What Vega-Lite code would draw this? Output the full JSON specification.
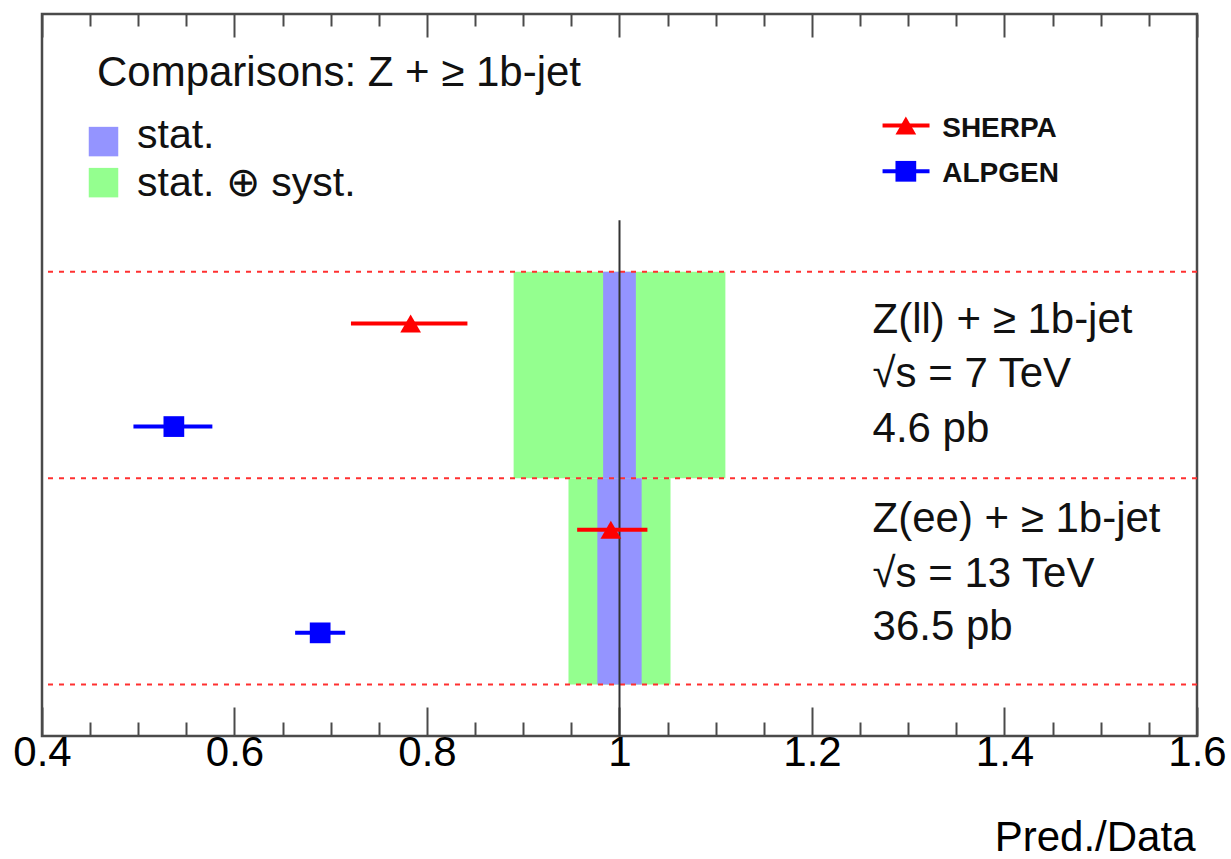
{
  "$schema": "https://vega.github.io/schema/vega-lite/v6.json",
  "width": 1155,
  "height": 722,
  "autosize": {"type": "none"},
  "padding": {"left": 42, "top": 14, "right": 34, "bottom": 123},
  "config": {
    "font": "Liberation Sans",
    "view": {"stroke": "#4a4a4a", "strokeWidth": 2.5},
    "axis": {"grid": false}
  },
  "datasets": {
    "bands": [
      {"sample": "7 TeV", "stat_lo": 0.983, "stat_hi": 1.017, "tot_lo": 0.890, "tot_hi": 1.110, "y_lo": 2.5, "y_hi": 4.5},
      {"sample": "13 TeV", "stat_lo": 0.977, "stat_hi": 1.023, "tot_lo": 0.947, "tot_hi": 1.053, "y_lo": 0.5, "y_hi": 2.5}
    ],
    "predictions": [
      {"sample": "7 TeV", "generator": "SHERPA", "ratio": 0.783, "lo": 0.721, "hi": 0.842, "row": 4},
      {"sample": "7 TeV", "generator": "ALPGEN", "ratio": 0.537, "lo": 0.495, "hi": 0.577, "row": 3},
      {"sample": "13 TeV", "generator": "SHERPA", "ratio": 0.991, "lo": 0.956, "hi": 1.029, "row": 2},
      {"sample": "13 TeV", "generator": "ALPGEN", "ratio": 0.689, "lo": 0.663, "hi": 0.715, "row": 1}
    ],
    "dividers": [{"y": 0.5}, {"y": 2.5}, {"y": 4.5}],
    "unity": [{"x": 1, "y0": 0, "y1": 5}],
    "uncertaintyKey": [
      {"label": "stat.", "x": 0.4639, "y": 5.763, "tx": 0.4987, "ty": 5.70},
      {"label": "stat. ⊕ syst.", "x": 0.4639, "y": 5.365, "tx": 0.4987, "ty": 5.24}
    ],
    "generatorKey": [
      {"generator": "SHERPA", "x": 1.2975, "x_lo": 1.2733, "x_hi": 1.3221, "y": 5.918, "tx": 1.3353, "ty": 5.804},
      {"generator": "ALPGEN", "x": 1.2975, "x_lo": 1.2733, "x_hi": 1.3221, "y": 5.475, "tx": 1.3353, "ty": 5.368}
    ],
    "titleText": [{"text": "Comparisons: Z + ≥ 1b-jet", "x": 0.4571, "y": 6.305}],
    "sampleText": [
      {"text": "Z(ll) + ≥ 1b-jet", "x": 1.2629, "y": 3.912},
      {"text": "√s = 7 TeV", "x": 1.2629, "y": 3.38},
      {"text": "4.6 pb", "x": 1.2629, "y": 2.85},
      {"text": "Z(ee) + ≥ 1b-jet", "x": 1.2629, "y": 1.977},
      {"text": "√s = 13 TeV", "x": 1.2629, "y": 1.444},
      {"text": "36.5 pb", "x": 1.2629, "y": 0.927}
    ]
  },
  "resolve": {"axis": {"x": "independent"}},
  "layer": [
    {
      "data": {"name": "bands"},
      "mark": {"type": "rect", "color": "#94ff8f"},
      "encoding": {
        "x": {
          "field": "tot_lo", "type": "quantitative",
          "scale": {"domain": [0.4, 1.6], "nice": false, "zero": false},
          "axis": {
            "orient": "bottom",
            "values": [0.4, 0.6, 0.8, 1, 1.2, 1.4, 1.6],
            "format": "~g",
            "ticks": false,
            "domain": false,
            "labelFontSize": 42,
            "labelPadding": -4,
            "labelColor": "#000000",
            "labelFlush": false,
            "labelOverlap": false,
            "title": "Pred./Data",
            "titleFontSize": 42,
            "titleFontWeight": "normal",
            "titleColor": "#000000",
            "titleAnchor": "end",
            "titleAlign": "right",
            "titleBaseline": "alphabetic",
            "titleX": 1153,
            "titleY": 114
          }
        },
        "x2": {"field": "tot_hi"},
        "y": {
          "field": "y_lo", "type": "quantitative",
          "scale": {"domain": [0, 7], "nice": false, "zero": false},
          "axis": {
            "values": [0, 1, 2, 3, 4, 5, 6, 7],
            "labels": false,
            "domain": false,
            "tickSize": 2,
            "tickWidth": 1.5,
            "tickColor": "#d6d6d6",
            "offset": 6,
            "title": null
          }
        },
        "y2": {"field": "y_hi"}
      }
    },
    {
      "data": {"name": "bands"},
      "mark": {"type": "rect", "color": "#9494ff"},
      "encoding": {
        "x": {
          "field": "stat_lo", "type": "quantitative",
          "scale": {"domain": [0.4, 1.6], "nice": false, "zero": false},
          "axis": {
            "orient": "bottom",
            "values": [0.4, 0.6, 0.8, 1, 1.2, 1.4, 1.6],
            "labels": false, "domain": false, "title": null,
            "tickSize": -29, "tickWidth": 2, "tickColor": "#4a4a4a"
          }
        },
        "x2": {"field": "stat_hi"},
        "y": {"field": "y_lo", "type": "quantitative", "axis": null},
        "y2": {"field": "y_hi"}
      }
    },
    {
      "data": {"name": "dividers"},
      "mark": {"type": "rule", "color": "#ff3030", "strokeWidth": 2, "strokeDash": [5, 6]},
      "encoding": {
        "y": {"field": "y", "type": "quantitative", "axis": null}
      }
    },
    {
      "data": {"name": "unity"},
      "mark": {"type": "rule", "color": "#333333", "strokeWidth": 2},
      "encoding": {
        "x": {
          "field": "x", "type": "quantitative",
          "scale": {"domain": [0.4, 1.6], "nice": false, "zero": false},
          "axis": {
            "orient": "bottom",
            "values": [0.45, 0.5, 0.55, 0.65, 0.7, 0.75, 0.85, 0.9, 0.95, 1.05, 1.1, 1.15, 1.25, 1.3, 1.35, 1.45, 1.5, 1.55],
            "labels": false, "domain": false, "title": null,
            "tickSize": -14, "tickWidth": 2, "tickColor": "#4a4a4a"
          }
        },
        "y": {"field": "y0", "type": "quantitative", "axis": null},
        "y2": {"field": "y1"}
      }
    },
    {
      "data": {"name": "predictions"},
      "mark": {"type": "rule", "strokeWidth": 4},
      "encoding": {
        "x": {
          "field": "lo", "type": "quantitative",
          "scale": {"domain": [0.4, 1.6], "nice": false, "zero": false},
          "axis": {
            "orient": "top",
            "values": [0.4, 0.6, 0.8, 1, 1.2, 1.4, 1.6],
            "labels": false, "domain": false, "title": null,
            "tickSize": -23, "tickWidth": 2, "tickColor": "#4a4a4a"
          }
        },
        "x2": {"field": "hi"},
        "y": {"field": "row", "type": "quantitative", "axis": null},
        "color": {
          "field": "generator", "type": "nominal",
          "scale": {"domain": ["SHERPA", "ALPGEN"], "range": ["#ff0000", "#0000ff"]},
          "legend": null
        }
      }
    },
    {
      "data": {"name": "predictions"},
      "mark": {"type": "point", "filled": true, "opacity": 1, "size": 430},
      "encoding": {
        "x": {
          "field": "ratio", "type": "quantitative",
          "scale": {"domain": [0.4, 1.6], "nice": false, "zero": false},
          "axis": {
            "orient": "top",
            "values": [0.45, 0.5, 0.55, 0.65, 0.7, 0.75, 0.85, 0.9, 0.95, 1.05, 1.1, 1.15, 1.25, 1.3, 1.35, 1.45, 1.5, 1.55],
            "labels": false, "domain": false, "title": null,
            "tickSize": -12, "tickWidth": 2, "tickColor": "#4a4a4a"
          }
        },
        "y": {"field": "row", "type": "quantitative", "axis": null},
        "color": {"field": "generator", "type": "nominal", "legend": null},
        "shape": {
          "field": "generator", "type": "nominal",
          "scale": {"domain": ["SHERPA", "ALPGEN"], "range": ["triangle-up", "square"]},
          "legend": null
        }
      }
    },
    {
      "data": {"name": "uncertaintyKey"},
      "transform": [{"filter": "datum.label === 'stat.'"}],
      "mark": {"type": "point", "shape": "square", "filled": true, "opacity": 1, "size": 870, "color": "#9494ff"},
      "encoding": {
        "x": {"field": "x", "type": "quantitative", "axis": null},
        "y": {"field": "y", "type": "quantitative", "axis": null}
      }
    },
    {
      "data": {"name": "uncertaintyKey"},
      "transform": [{"filter": "datum.label !== 'stat.'"}],
      "mark": {"type": "point", "shape": "square", "filled": true, "opacity": 1, "size": 870, "color": "#94ff8f"},
      "encoding": {
        "x": {"field": "x", "type": "quantitative", "axis": null},
        "y": {"field": "y", "type": "quantitative", "axis": null}
      }
    },
    {
      "data": {"name": "uncertaintyKey"},
      "mark": {"type": "text", "fontSize": 41, "align": "left", "baseline": "alphabetic", "color": "#111111"},
      "encoding": {
        "x": {"field": "tx", "type": "quantitative", "axis": null},
        "y": {"field": "ty", "type": "quantitative", "axis": null},
        "text": {"field": "label"}
      }
    },
    {
      "data": {"name": "generatorKey"},
      "mark": {"type": "rule", "strokeWidth": 4},
      "encoding": {
        "x": {"field": "x_lo", "type": "quantitative", "axis": null},
        "x2": {"field": "x_hi"},
        "y": {"field": "y", "type": "quantitative", "axis": null},
        "color": {"field": "generator", "type": "nominal", "legend": null}
      }
    },
    {
      "data": {"name": "generatorKey"},
      "mark": {"type": "point", "filled": true, "opacity": 1, "size": 430},
      "encoding": {
        "x": {"field": "x", "type": "quantitative", "axis": null},
        "y": {"field": "y", "type": "quantitative", "axis": null},
        "color": {"field": "generator", "type": "nominal", "legend": null},
        "shape": {"field": "generator", "type": "nominal", "legend": null}
      }
    },
    {
      "data": {"name": "generatorKey"},
      "mark": {"type": "text", "fontSize": 28, "fontWeight": "bold", "align": "left", "baseline": "alphabetic", "color": "#111111"},
      "encoding": {
        "x": {"field": "tx", "type": "quantitative", "axis": null},
        "y": {"field": "ty", "type": "quantitative", "axis": null},
        "text": {"field": "generator"}
      }
    },
    {
      "data": {"name": "titleText"},
      "mark": {"type": "text", "fontSize": 42, "align": "left", "baseline": "alphabetic", "color": "#111111"},
      "encoding": {
        "x": {"field": "x", "type": "quantitative", "axis": null},
        "y": {"field": "y", "type": "quantitative", "axis": null},
        "text": {"field": "text"}
      }
    },
    {
      "data": {"name": "sampleText"},
      "mark": {"type": "text", "fontSize": 42, "align": "left", "baseline": "alphabetic", "color": "#111111"},
      "encoding": {
        "x": {"field": "x", "type": "quantitative", "axis": null},
        "y": {"field": "y", "type": "quantitative", "axis": null},
        "text": {"field": "text"}
      }
    }
  ]
}
